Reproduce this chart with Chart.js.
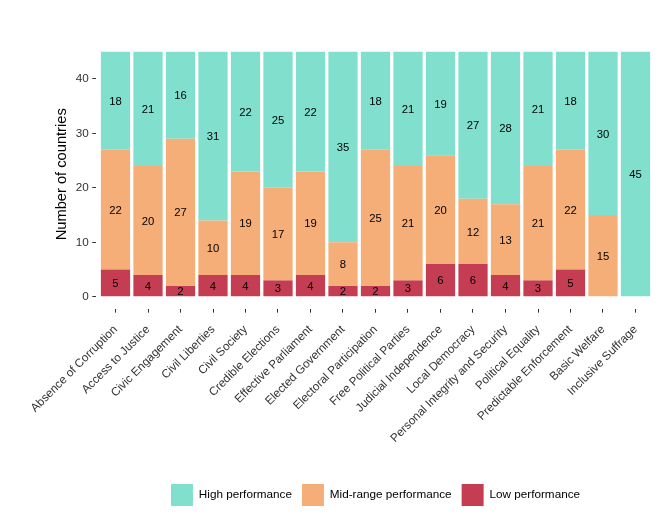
<!DOCTYPE html>
<html><head><meta charset="utf-8">
<script src="https://cdn.jsdelivr.net/npm/chart.js@4.4.1/dist/chart.umd.min.js"></script>
<style>html,body{margin:0;padding:0;background:#fff;} #wrap{width:668px;height:528px;}</style>
</head><body><div id="wrap"><canvas id="c" width="668" height="528"></canvas></div>
<script>
const categories = ['Absence of Corruption','Access to Justice','Civic Engagement','Civil Liberties','Civil Society','Credible Elections','Effective Parliament','Elected Government','Electoral Participation','Free Political Parties','Judicial Independence','Local Democracy','Personal Integrity and Security','Political Equality','Predictable Enforcement','Basic Welfare','Inclusive Suffrage'];
const lowValues  = [5,4,2,4,4,3,4,2,2,3,6,6,4,3,5,0,0];
const midValues  = [22,20,27,10,19,17,19,8,25,21,20,12,13,21,22,15,0];
const highValues = [18,21,16,31,22,25,22,35,18,21,19,27,28,21,18,30,45];
const yTicks = [0,10,20,30,40];
const seriesNames = ['Low performance','Mid-range performance','High performance'];
const seriesColors = ['#C53D52','#F5AE78','#80E0CD'];
const yTitle = 'Number of countries';

const FONT = '"Liberation Sans", Arial, sans-serif';

const toPoints = arr => arr.map((v, i) => ({x: i, y: v}));

const barLabels = {
  id: 'barLabels',
  afterDatasetsDraw(chart) {
    const ctx = chart.ctx;
    ctx.save();
    ctx.font = '11.3px ' + FONT;
    ctx.fillStyle = '#000';
    ctx.textAlign = 'center';
    ctx.textBaseline = 'middle';
    chart.data.datasets.forEach((ds, di) => {
      const meta = chart.getDatasetMeta(di);
      meta.data.forEach((el, i) => {
        const v = ds.data[i].y;
        if (!v) return;
        ctx.fillText(String(v), el.x, (el.y + el.base) / 2 + 1);
      });
    });
    ctx.restore();
  }
};

const datasets = [lowValues, midValues, highValues].map((arr, k) => ({
  label: seriesNames[k],
  data: toPoints(arr),
  backgroundColor: seriesColors[k],
  borderWidth: 0,
  categoryPercentage: 1,
  barPercentage: 0.9,
  clip: false
}));

new Chart(document.getElementById('c'), {
  type: 'bar',
  data: { datasets },
  plugins: [barLabels],
  options: {
    responsive: false,
    animation: false,
    layout: { padding: { top: 39.5, left: 0, right: 13, bottom: 12 } },
    plugins: {
      tooltip: { enabled: false },
      legend: {
        position: 'bottom',
        fullSize: false,
        reverse: true,
        labels: {
          boxWidth: 22, boxHeight: 22, padding: 10,
          color: '#000',
          font: { family: FONT, size: 11.73 }
        }
      }
    },
    scales: {
      x: {
        type: 'linear',
        stacked: true,
        offset: false,
        min: -0.6, max: 16.6,
        afterBuildTicks: s => { s.ticks = categories.map((_, i) => ({value: i})); },
        afterFit: s => { s.height = 165; },
        border: { display: false },
        grid: { offset: false, drawOnChartArea: false, drawTicks: true, tickLength: 3.7, tickColor: '#333', lineWidth: 1 },
        ticks: {
          autoSkip: false, minRotation: 45, maxRotation: 45, padding: 10,
          color: '#333',
          font: { family: FONT, size: 11.73 },
          callback: v => categories[v]
        }
      },
      y: {
        stacked: true,
        min: -2.25, max: 47.25,
        afterBuildTicks: s => { s.ticks = yTicks.map(v => ({value: v})); },
        afterFit: s => { s.width = 96; },
        border: { display: false },
        grid: { drawOnChartArea: false, drawTicks: true, tickLength: 3.7, tickColor: '#333', lineWidth: 1 },
        ticks: {
          padding: 3.5,
          color: '#333',
          font: { family: FONT, size: 11.73 }
        },
        title: {
          display: true, text: yTitle, color: '#000',
          font: { family: FONT, size: 14.67 },
          padding: { top: 53.5, bottom: 0 }
        }
      }
    }
  }
});
</script>
</body></html>
